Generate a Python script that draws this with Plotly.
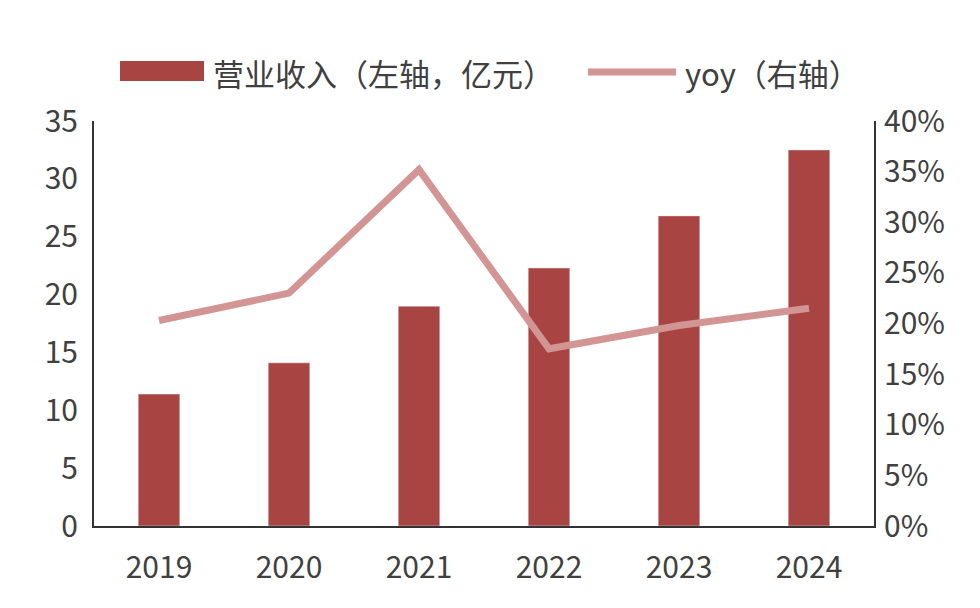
import plotly.graph_objects as go

years = ["2019", "2020", "2021", "2022", "2023", "2024"]
revenue = [11.4, 14.1, 19.0, 22.3, 26.8, 32.5]
yoy = [20.3, 23.0, 35.2, 17.5, 19.8, 21.5]
left_ticks = [0, 5, 10, 15, 20, 25, 30, 35]
right_ticks = [0, 5, 10, 15, 20, 25, 30, 35, 40]

BAR = "#A84442"
LINE = "#D39494"
FONT = "Noto Sans CJK SC"

fig = go.Figure()
fig.add_trace(go.Bar(x=years, y=revenue, marker_color=BAR, width=0.32, yaxis="y", showlegend=False))
fig.add_trace(go.Scatter(x=years, y=yoy, mode="lines", line=dict(color=LINE, width=7), yaxis="y2", showlegend=False))

fig.update_layout(
    width=980, height=608,
    margin=dict(l=86, r=114, t=113, b=90, autoexpand=False),
    plot_bgcolor="white", paper_bgcolor="white",
    font=dict(family=FONT, size=30, color="#404040"),
    xaxis=dict(showline=True, linecolor="#333333", linewidth=2, ticks="", showgrid=False,
               automargin=False, ticklabelstandoff=14),
    yaxis=dict(range=[0, 35], tickvals=left_ticks, showline=True, linecolor="#333333", linewidth=2,
               showgrid=False, zeroline=False, ticks="", ticklabelstandoff=8, automargin=False),
    yaxis2=dict(range=[0, 40], tickvals=right_ticks, ticktext=[f"{v}%" for v in right_ticks], overlaying="y",
                side="right", showline=True, linecolor="#333333", linewidth=2, showgrid=False, zeroline=False,
                ticks="", automargin=False, ticklabelstandoff=2),
    shapes=[
        dict(type="rect", xref="paper", yref="paper", x0=(112-86)/780, x1=(196-86)/780,
             y0=(608-90-73)/405, y1=(608-90-53)/405, fillcolor=BAR, line=dict(width=0)),
        dict(type="line", xref="paper", yref="paper", x0=(580-86)/780, x1=(668-86)/780,
             y0=(608-90-64)/405, y1=(608-90-64)/405, line=dict(color=LINE, width=7)),
    ],
    annotations=[
        dict(text="营业收入（左轴，亿元）", xref="paper", yref="paper", x=(203-86)/780, y=(608-90-64)/405,
             xanchor="left", yanchor="middle", showarrow=False, font=dict(size=31)),
        dict(text="yoy（右轴）", xref="paper", yref="paper", x=(675-86)/780, y=(608-90-64)/405,
             xanchor="left", yanchor="middle", showarrow=False, font=dict(size=31)),
    ],
)
fig.write_html("out.html")
